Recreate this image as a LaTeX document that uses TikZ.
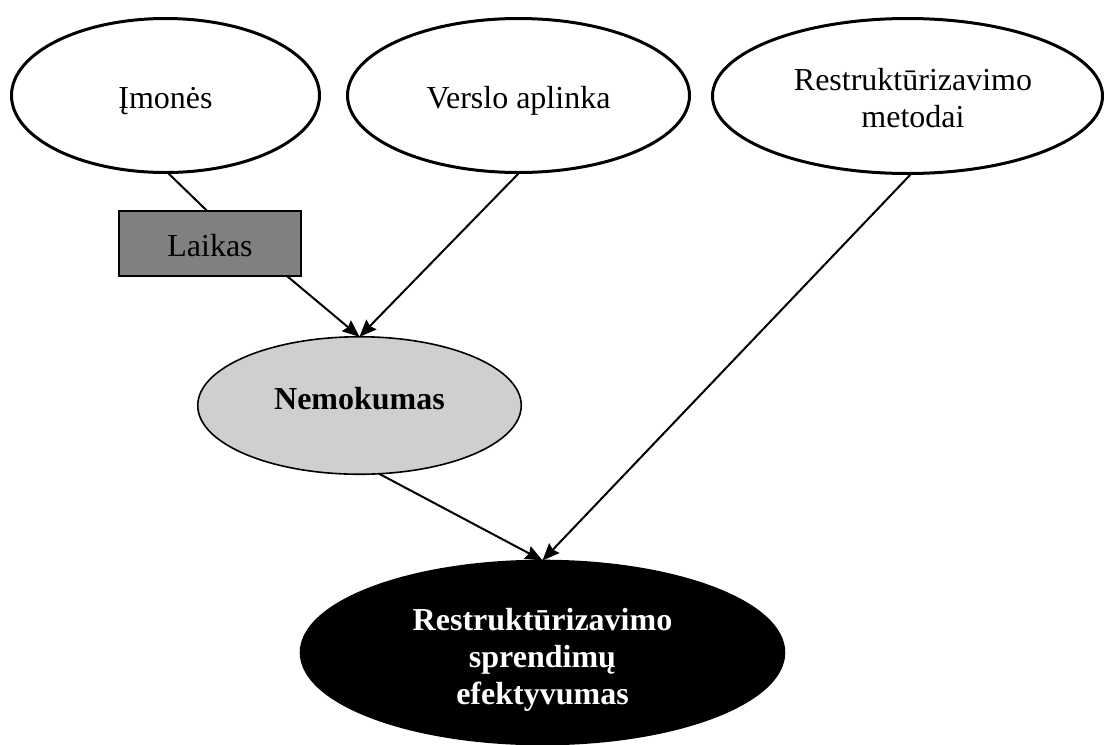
\documentclass[tikz,border=0pt]{standalone}
\usepackage{fontspec}
\setmainfont{Liberation Serif}
\usetikzlibrary{arrows.meta,shapes.geometric}
\begin{document}
\begin{tikzpicture}[x=0.5pt,y=-0.5pt,
  every node/.style={inner sep=0pt,outer sep=0pt,font=\fontsize{16}{18.5}\selectfont,align=center},
  lowtext/.style={text height=15pt,text depth=2.5pt},
  factor/.style={ellipse,draw,line width=1.5pt,fill=white},
  midstate/.style={ellipse,draw,line width=0.8pt,fill=nemogray,font=\fontsize{16}{18.5}\selectfont\bfseries,
                   text height=11pt,text depth=7.5pt},
  result/.style={ellipse,draw,line width=0.8pt,fill=black},
  resulttext/.style={text=white,font=\fontsize{16}{18.5}\selectfont\bfseries},
  timebox/.style={rectangle,draw,line width=0.8pt,fill=timegray,lowtext},
  link/.style={line width=1pt},
  flow/.style={line width=1pt,-{Stealth[length=8.5pt,width=7pt,inset=1pt]}}]
\definecolor{nemogray}{HTML}{D0CED0}
\definecolor{timegray}{HTML}{808080}
\useasboundingbox (0,0) rectangle (1105,745);

% upper factors
\node[factor,lowtext,minimum width=154pt,minimum height=77pt] (imones) at (165.5,95.5) {Įmonės};
\node[factor,lowtext,minimum width=171pt,minimum height=77pt] (aplinka) at (518.5,95.5) {Verslo aplinka};
\node[factor,minimum width=195pt,minimum height=77.5pt] (metodai) at (907.5,96) {};
\node (metodaiTxt) at ([xshift=2.75pt,yshift=-1pt]metodai.center) {Restruktūrizavimo\\metodai};

% time box
\node[timebox,minimum width=91.25pt,minimum height=32.75pt] (laikas) at (210,243.5) {Laikas};

% insolvency
\node[midstate,minimum width=161.75pt,minimum height=68.75pt] (nemokumas) at (359.5,405.5) {Nemokumas};

% outcome
\node[result,minimum width=242pt,minimum height=92pt] (efekt) at (542.5,652.5) {};
\node[resulttext] (efektTxt) at ([yshift=-3.5pt]efekt.center) {Restruktūrizavimo\\sprendimų\\efektyvumas};

% connectors
\draw[link] ([xshift=1pt]imones.south) -- ([xshift=-1.5pt]laikas.north);
\draw[flow] ([xshift=-7pt]laikas.south east) -- (nemokumas.north);
\draw[flow] ([xshift=0.5pt]aplinka.south) -- (nemokumas.north);
\draw[flow] (nemokumas.-74) -- (efekt.north);
\draw[flow] ([xshift=2pt]metodai.south) -- (efekt.north);
\end{tikzpicture}
\end{document}
